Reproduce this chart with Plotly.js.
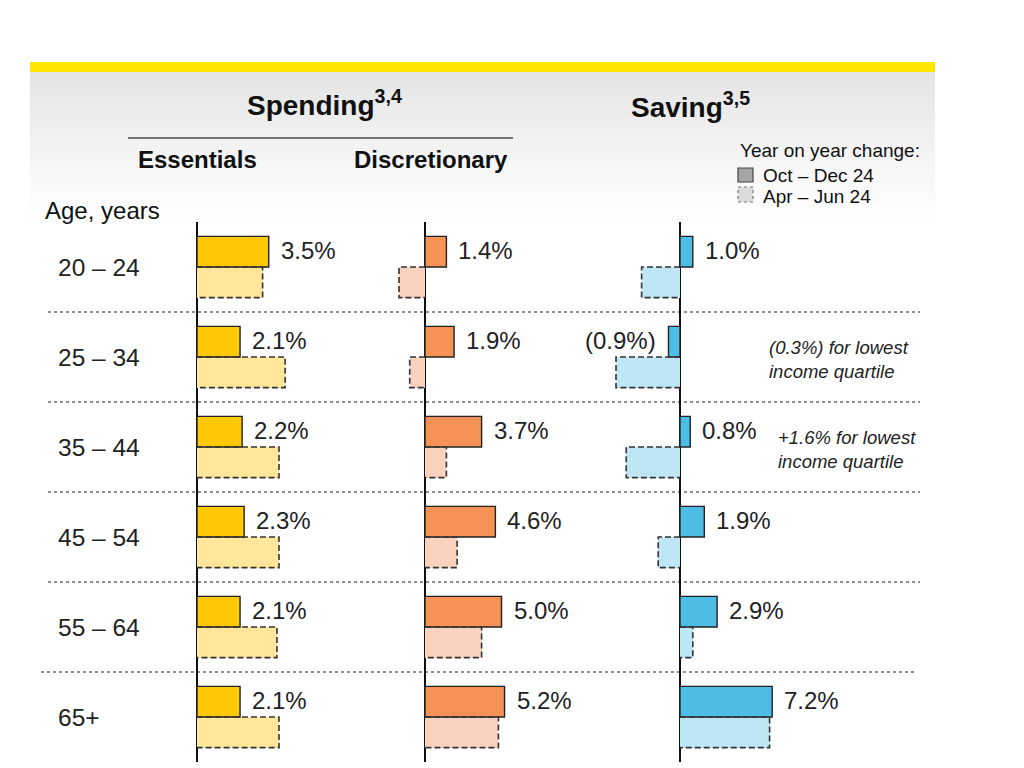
<!DOCTYPE html>
<html>
<head>
<meta charset="utf-8">
<script src="https://cdn.plot.ly/plotly-3.0.1.min.js"></script>
<style>
  html, body { margin: 0; padding: 0; background: #ffffff; }
  #wrap { position: relative; width: 1024px; height: 768px; overflow: hidden; }
  #bg { position: absolute; left: 30px; top: 72px; width: 905px; height: 150px;
        background: linear-gradient(to bottom, #e4e4e4 0%, #f4f4f4 55%, #ffffff 100%); }
  #chart { position: absolute; left: 0; top: 0; width: 1024px; height: 768px; }
</style>
</head>
<body>
<div id="wrap">
  <div id="bg"></div>
  <div id="chart"></div>
</div>
<script>
// ---------------- data ----------------
const ages = ['20 – 24', '25 – 34', '35 – 44', '45 – 54', '55 – 64', '65+'];
const periodLabels = ['Oct – Dec 24', 'Apr – Jun 24'];
const essentialsOct    = [3.5, 2.1, 2.2, 2.3, 2.1, 2.1];
const essentialsApr    = [3.2, 4.3, 4.0, 4.0, 3.9, 4.0];
const discretionaryOct = [1.4, 1.9, 3.7, 4.6, 5.0, 5.2];
const discretionaryApr = [-1.7, -1.0, 1.4, 2.1, 3.7, 4.8];
const savingOct        = [1.0, -0.9, 0.8, 1.9, 2.9, 7.2];
const savingApr        = [-3.0, -5.0, -4.2, -1.7, 1.0, 7.0];
const savingNotes      = ['', '(0.3%) for lowest<br>income quartile', '+1.6% for lowest<br>income quartile', '', '', ''];

// ---------------- layout helpers ----------------
const W = 1024, H = 768, TOP = 222, BOT = 6;
const PH = H - TOP - BOT;
const FONT = "'Liberation Sans', Arial, sans-serif";
const TXT = '#222222';
const BW = 0.34;            // bar thickness in category units
const idx = ages.map((_, i) => i);
const py = p => (H - BOT - p) / PH;  // pixel y -> paper y
const px = p => p / W;               // pixel x -> paper x

// panel geometry: pixel domain, pixel of zero, pixels per percentage point
const panels = [
  { ax: 'x',  key: 'xaxis',  dom: [150, 385], zero: 197, scale: 20.5, oct: essentialsOct,    apr: essentialsApr,    c1: '#FFC805', c2: '#FFE69A' },
  { ax: 'x2', key: 'xaxis2', dom: [385, 600], zero: 425, scale: 15.3, oct: discretionaryOct, apr: discretionaryApr, c1: '#F79256', c2: '#FBD2BD' },
  { ax: 'x3', key: 'xaxis3', dom: [600, 960], zero: 680, scale: 12.8, oct: savingOct,        apr: savingApr,        c1: '#4DBDE6', c2: '#BEE6F5' }
];

const fmt = v => v < 0 ? '(' + Math.abs(v).toFixed(1) + '%)' : v.toFixed(1) + '%';

const traces = [];
const annotations = [];
const shapes = [];
const layout = {
  width: W, height: H,
  margin: { l: 0, r: 0, t: TOP, b: BOT, pad: 0 },
  paper_bgcolor: 'rgba(0,0,0,0)',
  plot_bgcolor: 'rgba(0,0,0,0)',
  showlegend: false,
  font: { family: FONT, color: TXT },
  yaxis: { range: [ages.length - 0.5, -0.5], domain: [0, 1], showgrid: false, zeroline: false,
           showticklabels: false, ticks: '', showline: false, fixedrange: true },
  bargap: 0, barmode: 'overlay'
};

panels.forEach(p => {
  const lo = (p.dom[0] - p.zero) / p.scale;
  const hi = (p.dom[1] - p.zero) / p.scale;
  layout[p.key] = {
    domain: [px(p.dom[0]), px(p.dom[1])], range: [lo, hi], anchor: 'y',
    showgrid: false, showticklabels: false, ticks: '', showline: false,
    zeroline: true, zerolinecolor: '#111111', zerolinewidth: 1.5, fixedrange: true
  };
  // Apr – Jun 24 (lighter fill, dashed outline)
  traces.push({
    type: 'bar', orientation: 'h', x: p.apr, y: idx, xaxis: p.ax, yaxis: 'y',
    width: BW, offset: 0, name: periodLabels[1],
    marker: { color: p.c2, line: { width: 0 } }, hoverinfo: 'x'
  });
  const ox = [], oy = [];
  p.apr.forEach((v, i) => {
    ox.push(0, v, v, 0, null);
    oy.push(i, i, i + BW, i + BW, null);
  });
  traces.push({
    type: 'scatter', mode: 'lines', x: ox, y: oy, xaxis: p.ax, yaxis: 'y',
    line: { color: '#333333', width: 1.6, dash: '6px,3px' }, hoverinfo: 'skip', connectgaps: false
  });
  // Oct – Dec 24 (solid)
  traces.push({
    type: 'bar', orientation: 'h', x: p.oct, y: idx, xaxis: p.ax, yaxis: 'y',
    width: BW, offset: -BW, name: periodLabels[0],
    marker: { color: p.c1, line: { color: '#222222', width: 1.4 } }, hoverinfo: 'x'
  });
  // value labels
  p.oct.forEach((v, i) => {
    annotations.push({
      xref: p.ax, yref: 'y', x: v, y: i - BW / 2, text: fmt(v), showarrow: false,
      xanchor: v < 0 ? 'right' : 'left', yanchor: 'middle', xshift: v < 0 ? -10 : 10, yshift: 1,
      font: { size: 24, family: FONT, color: TXT }
    });
  });
});

// saving notes
savingNotes.forEach((t, i) => {
  if (!t) return;
  annotations.push({
    xref: 'paper', yref: 'y', x: px(i === 1 ? 767 : 776), y: i, text: '<i>' + t + '</i>',
    showarrow: false, xanchor: 'left', yanchor: 'middle', align: 'left', yshift: -2,
    font: { size: 18.5, family: FONT, color: TXT }
  });
});

// row labels
ages.forEach((a, i) => {
  annotations.push({
    xref: 'paper', yref: 'y', x: px(56), y: i, text: a, showarrow: false,
    xanchor: 'left', yanchor: 'middle', font: { size: 24.5, family: FONT, color: TXT }
  });
});

// dotted separators
for (let i = 0; i < ages.length - 1; i++) {
  const last = i === ages.length - 2;
  shapes.push({
    type: 'line', xref: 'paper', yref: 'y', x0: px(last ? 41 : 48), x1: px(last ? 915 : 920),
    y0: i + 0.5, y1: i + 0.5, line: { color: '#6a6a6a', width: 1.6, dash: 'dot' }, layer: 'below'
  });
}

// header decorations
shapes.push({ type: 'rect', xref: 'paper', yref: 'paper', x0: px(30), x1: px(935), y0: py(72), y1: py(62),
              fillcolor: '#FFE600', line: { width: 0 } });
shapes.push({ type: 'line', xref: 'paper', yref: 'paper', x0: px(128), x1: px(513), y0: py(138), y1: py(138),
              line: { color: '#444444', width: 1.5 } });
// legend swatches
shapes.push({ type: 'rect', xref: 'paper', yref: 'paper', x0: px(738), x1: px(753), y0: py(182), y1: py(168),
              fillcolor: '#A6A6A6', line: { color: '#444444', width: 1.2 } });
shapes.push({ type: 'rect', xref: 'paper', yref: 'paper', x0: px(738), x1: px(753), y0: py(202), y1: py(187),
              fillcolor: '#DCDCDC', line: { color: '#777777', width: 1.2, dash: 'dot' } });

const headers = [
  { text: '<b>Spending<sup>3,4</sup></b>', x: 324, y: 103, size: 28, anchor: 'center' },
  { text: '<b>Saving<sup>3,5</sup></b>', x: 690, y: 105, size: 28, anchor: 'center' },
  { text: '<b>Essentials</b>', x: 197, y: 160, size: 24, anchor: 'center' },
  { text: '<b>Discretionary</b>', x: 431, y: 159, size: 24, anchor: 'center' },
  { text: 'Age, years', x: 43, y: 210, size: 24, anchor: 'left' },
  { text: 'Year on year change:', x: 738, y: 150, size: 19, anchor: 'left' },
  { text: periodLabels[0], x: 761, y: 176, size: 19, anchor: 'left' },
  { text: periodLabels[1], x: 761, y: 196, size: 19, anchor: 'left' }
];
headers.forEach(h => {
  annotations.push({
    xref: 'paper', yref: 'paper', x: px(h.x), y: py(h.y), text: h.text, showarrow: false,
    xanchor: h.anchor, yanchor: 'middle', font: { size: h.size, family: FONT, color: '#111111' }
  });
});

layout.annotations = annotations;
layout.shapes = shapes;

Plotly.newPlot('chart', traces, layout, { displayModeBar: false, staticPlot: true });
</script>
</body>
</html>
